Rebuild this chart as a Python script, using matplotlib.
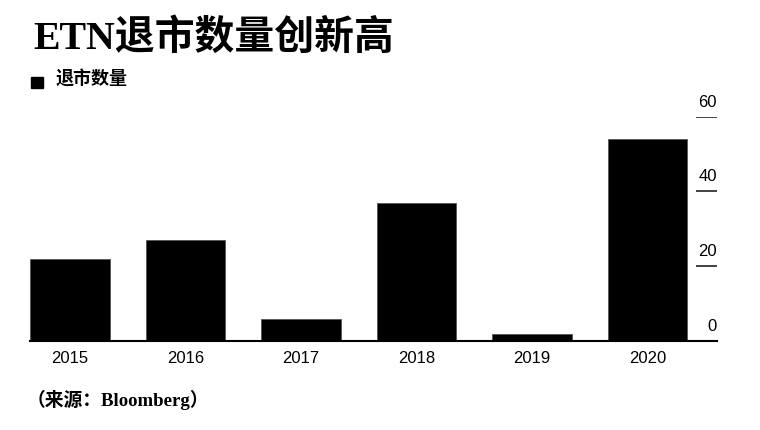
import matplotlib
matplotlib.use("Agg")
import matplotlib.pyplot as plt

# data
years = ["2015", "2016", "2017", "2018", "2019", "2020"]
delisted = [22, 27, 6, 37, 2, 54]
yticks = [0, 20, 40, 60]

title_font = ["Liberation Serif", "Noto Sans CJK SC"]
num_font = ["Liberation Sans", "DejaVu Sans"]

fig = plt.figure(figsize=(7.6, 4.3), dpi=100)
ax = fig.add_axes([30 / 760, 89 / 430, 686.7 / 760, 224.3 / 430])

x = list(range(len(years)))
ax.bar(x, delisted, width=0.69, color="black", edgecolor="#555555", linewidth=0.6, zorder=2)

ax.set_xlim(-0.345, 5.6)
ax.set_ylim(0, 60)

# spines: only the baseline
for side in ["top", "right", "left"]:
    ax.spines[side].set_visible(False)
ax.spines["bottom"].set_linewidth(1.5)
ax.spines["bottom"].set_color("black")
ax.spines["bottom"].set_zorder(3)

ax.set_xticks(x)
ax.set_xticklabels(years, family=num_font, fontsize=12)
ax.tick_params(axis="x", length=0, pad=7)
ax.set_yticks([])

# short tick lines at the right edge with labels sitting above them
ytrans = ax.get_yaxis_transform()
ax.hlines(yticks[1:], 0.970, 1.0, transform=ytrans, color="#222222", linewidth=1.2)
for v in yticks:
    ax.annotate(str(v), xy=(1.0, v), xycoords=ytrans, xytext=(0, 7),
                textcoords="offset pixels", ha="right", va="bottom",
                family=num_font, fontsize=12, color="black")

# title, legend marker and source
fig.text(33 / 760, 1 - 39 / 430, "ETN退市数量创新高", family=title_font,
         fontsize=28.7, fontweight="bold", va="center", ha="left")
fig.patches.append(plt.Rectangle((31.5 / 760, 1 - 88.3 / 430), 11.6 / 760, 11.6 / 430,
                                 transform=fig.transFigure, color="black"))
fig.text(56 / 760, 1 - 80 / 430, "退市数量", family=title_font,
         fontsize=13, fontweight="bold", va="center", ha="left")
fig.text(27 / 760, 1 - 400 / 430, "（来源：Bloomberg）", family=title_font,
         fontsize=13.5, fontweight="bold", va="center", ha="left")

fig.savefig("out.png", dpi=100)
